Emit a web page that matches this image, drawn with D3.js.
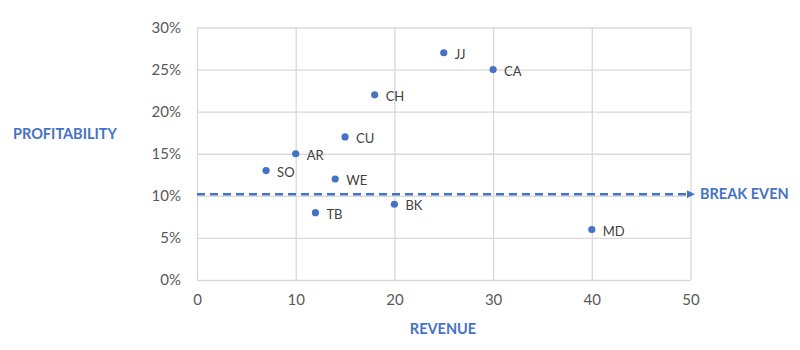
<!DOCTYPE html>
<html><head><meta charset="utf-8">
<script src="https://cdn.jsdelivr.net/npm/d3@7"></script>
<style>body{margin:0;background:#fff}svg{display:block}</style>
</head><body>
<svg id="c" width="800" height="350"></svg>
<script>
const labels = ["JJ","CA","CH","CU","AR","SO","WE","TB","BK","MD"];
const revenue = [25,30,18,15,10,7,14,12,20,40];
const profit = [0.27,0.25,0.22,0.17,0.15,0.13,0.12,0.08,0.09,0.06];
const breakEven = [0.102];
const xTicks = [0,10,20,30,40,50];
const yTicks = [0,0.05,0.10,0.15,0.20,0.25,0.30];

const svg = d3.select("#c");
const blue = "#4472C4";
const font = "Lato, 'Open Sans', sans-serif";
const x = d3.scaleLinear().domain([0,50]).range([197,690.5]);
const y = d3.scaleLinear().domain([0,0.30]).range([280,27.5]);

// grid
const gx = svg.append("g").attr("transform","translate(0,280)")
  .call(d3.axisBottom(x).tickValues(xTicks).tickSize(-(280-27.5)).tickFormat(d3.format("d")).tickPadding(14));
const gy = svg.append("g").attr("transform","translate(197,0)")
  .call(d3.axisLeft(y).tickValues(yTicks).tickSize(-(690.5-197)).tickFormat(d3.format(".0%")).tickPadding(16));
[gx,gy].forEach(g=>{
  g.select(".domain").remove();
  g.selectAll("line").attr("stroke","#d9d9d9").attr("stroke-width",1.3);
  g.selectAll("text").attr("fill","#595959").style("font-family",font).style("font-size","15px");
});

// break-even line
const defs = svg.append("defs");
defs.append("marker").attr("id","arr").attr("viewBox","0 0 10 10").attr("refX",2).attr("refY",5)
  .attr("markerWidth",3.2).attr("markerHeight",3.2).attr("orient","auto")
  .append("path").attr("d","M0,0L10,5L0,10z").attr("fill",blue);
svg.append("line").attr("x1",x(0)).attr("x2",x(50)-2).attr("y1",y(breakEven[0])).attr("y2",y(breakEven[0]))
  .attr("stroke",blue).attr("stroke-width",2.5).attr("stroke-dasharray","8,5").attr("marker-end","url(#arr)");
svg.append("text").attr("x",700).attr("y",y(breakEven[0])).attr("dy","0.35em")
  .attr("fill",blue).style("font-family",font).style("font-weight","bold").style("font-size","14.5px").text("BREAK EVEN");

// points
const pts = labels.map((l,i)=>({l, r:revenue[i], p:profit[i]}));
svg.append("g").selectAll("circle").data(pts).join("circle")
  .attr("cx",d=>x(d.r)).attr("cy",d=>y(d.p)).attr("r",3.6).attr("fill",blue);
svg.append("g").selectAll("text").data(pts).join("text")
  .attr("x",d=>x(d.r)+11).attr("y",d=>y(d.p)+1.5).attr("dy","0.35em")
  .attr("fill","#404040").style("font-family",font).style("font-size","13px").text(d=>d.l);

// axis titles
svg.append("text").attr("x",443).attr("y",329).attr("dy","0.35em").attr("text-anchor","middle")
  .attr("fill",blue).style("font-family",font).style("font-weight","bold").style("font-size","14.5px").text("REVENUE");
svg.append("text").attr("x",13).attr("y",134).attr("dy","0.35em")
  .attr("fill",blue).style("font-family",font).style("font-weight","bold").style("font-size","14.5px").text("PROFITABILITY");
</script>
</body></html>
